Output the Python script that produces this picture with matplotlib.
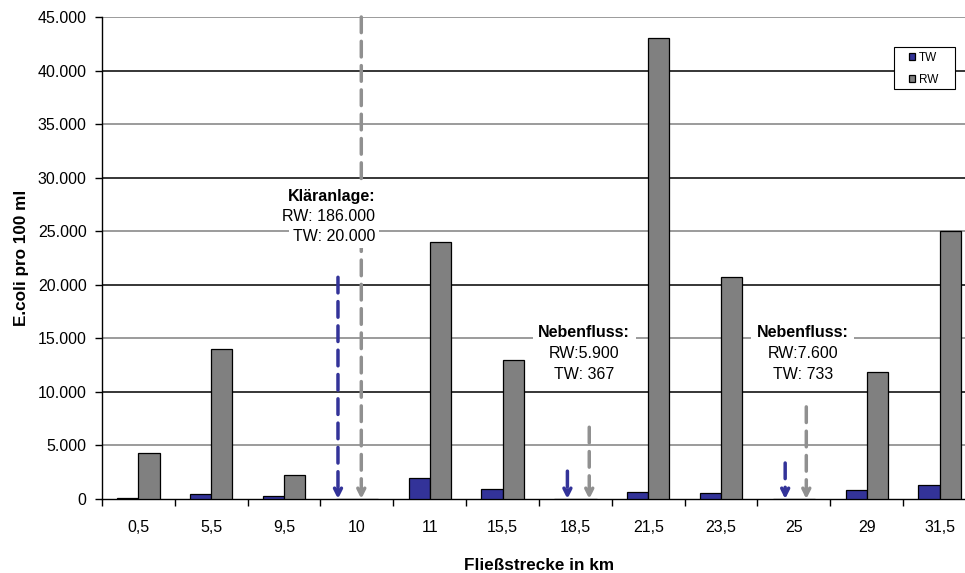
import matplotlib.pyplot as plt
from matplotlib.patches import Rectangle
import numpy as np

plt.rcParams['font.family'] = ['Liberation Sans', 'DejaVu Sans']

# data
km_labels = ['0,5', '5,5', '9,5', '10', '11', '15,5', '18,5', '21,5',
             '23,5', '25', '29', '31,5']
tw = [100, 470, 300, 0, 1960, 980, 0, 650, 590, 0, 810, 1300]
rw = [4300, 14000, 2200, 0, 24000, 13000, 0, 43000, 20700, 0, 11850, 25000]

# inflow markers: (TW x, TW arrow start, RW x, RW arrow start)
klaer = (2.74, 20700, 3.06, 45000)
neben1 = (5.89, 2600, 6.19, 6700)
neben2 = (8.88, 3360, 9.17, 8600)

fig = plt.figure(figsize=(9.65, 5.73), dpi=100)
ax = fig.add_axes([102 / 965, 74 / 573, 874 / 965, 482 / 573])

x = np.arange(len(km_labels))
w = 0.29
ax.bar(x - w / 2, tw, width=w, color='#333399', edgecolor='black',
       linewidth=0.9, label='TW', zorder=3)
ax.bar(x + w / 2, rw, width=w, color='#808080', edgecolor='black',
       linewidth=0.9, label='RW', zorder=3)

ax.set_xlim(-0.5, len(km_labels) - 0.5)
ax.set_ylim(0, 45000)
yt = np.arange(0, 45001, 5000)
ax.set_yticks(yt)
ax.set_yticklabels(['0'] + [f'{v // 1000}.000' for v in yt[1:]], fontsize=11.5)
for v in yt[1:]:
    c = 'black' if (v // 5000) % 2 == 0 else '#808080'
    ax.axhline(v, color=c, linewidth=1.1, zorder=1)

ax.set_xticks(x)
ax.set_xticklabels(km_labels, fontsize=11.5)
ax.set_xticks(np.arange(-0.5, len(km_labels)), minor=True)
ax.tick_params(axis='x', which='major', length=0, pad=15)
ax.tick_params(axis='x', which='minor', length=5, width=1, direction='out')
ax.tick_params(axis='y', length=5, width=1, direction='out', pad=6)

for s in ['top', 'right']:
    ax.spines[s].set_visible(False)
ax.spines['left'].set_linewidth(1)
ax.spines['bottom'].set_linewidth(1)

ax.set_ylabel('E.coli pro 100 ml', fontsize=12.3, fontweight='bold', labelpad=6)
ax.set_xlabel('Fließstrecke in km', fontsize=12.3, fontweight='bold', labelpad=17)


def arrow(xp, y0, color):
    ax.annotate('', xy=(xp, 0), xytext=(xp, y0), zorder=4,
                arrowprops=dict(arrowstyle='-|>,head_length=0.5,head_width=0.25',
                                color=color, linewidth=2.5, linestyle=(0, (4.5, 2.5)),
                                shrinkA=0, shrinkB=0))


for m in [klaer, neben1, neben2]:
    arrow(m[0], m[1], '#333399')
    arrow(m[2], m[3], '#909090')

box = dict(facecolor='white', edgecolor='none', pad=3)
ax.text(3.25, 28200, 'Kläranlage:', fontsize=11.5, fontweight='bold',
        ha='right', va='center', zorder=5, bbox=box)
ax.text(3.25, 26420, 'RW: 186.000', fontsize=11.5,
        ha='right', va='center', zorder=5, bbox=box)
ax.text(3.25, 24550, 'TW: 20.000', fontsize=11.5,
        ha='right', va='center', zorder=5, bbox=box)

for cx, rw_txt, tw_txt in [(6.12, 'RW:5.900', 'TW: 367'),
                           (9.12, 'RW:7.600', 'TW: 733')]:
    ax.text(cx, 15500, 'Nebenfluss:', fontsize=11.5, fontweight='bold',
            ha='center', va='center', zorder=5,
            bbox=dict(facecolor='white', edgecolor='none', pad=4))
    ax.text(cx, 13540, rw_txt, fontsize=11.5, ha='center', va='center', zorder=5)
    ax.text(cx, 11670, tw_txt, fontsize=11.5, ha='center', va='center', zorder=5)

# legend box drawn separately to get the wide padding of the original
ax.add_patch(Rectangle((894 / 965, 1 - 89 / 573), 61 / 965, 42 / 573,
                       transform=fig.transFigure, facecolor='white',
                       edgecolor='black', linewidth=0.8, zorder=5.5,
                       clip_on=False))
leg = ax.legend(loc='upper left', bbox_to_anchor=(909 / 965, 1 - 52 / 573),
                bbox_transform=fig.transFigure,
                fontsize=8.5, frameon=False, handlelength=0.55, handleheight=0.55,
                handletextpad=0.3, borderpad=0, labelspacing=0.82,
                borderaxespad=0)
leg.set_zorder(6)

fig.savefig('out.png', dpi=100)
